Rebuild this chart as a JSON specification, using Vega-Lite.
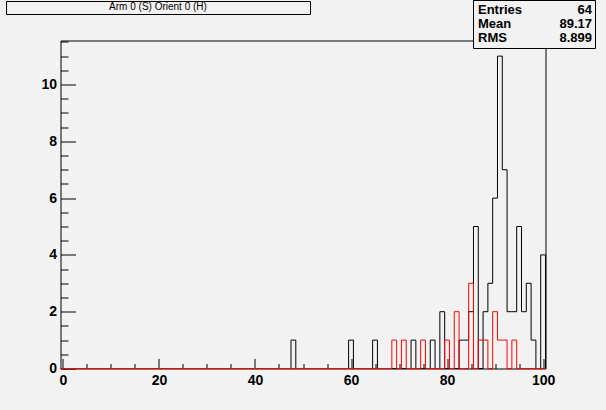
{
  "$schema": "https://vega.github.io/schema/vega-lite/v6.json",
  "width": 485,
  "height": 328,
  "autosize": {"type": "none"},
  "padding": {"left": 60.5, "top": 40.5, "right": 60.5, "bottom": 41.5},
  "background": "#f2f2f2",
  "config": {
    "view": {"stroke": "black", "strokeWidth": 1, "fill": "#f2f2f2"},
    "axis": {
      "domain": false, "tickColor": "black", "tickWidth": 1,
      "labelColor": "black", "labelFont": "Liberation Sans", "labelFontSize": 14,
      "labelFontWeight": "bold", "grid": false, "labelFlush": false, "labelOverlap": false
    }
  },
  "datasets": {
    "hist": [
      {"edge": -0.5, "all": 0, "sel": 0}, {"edge": 0.5, "all": 0, "sel": 0}, {"edge": 1.5, "all": 0, "sel": 0},
      {"edge": 2.5, "all": 0, "sel": 0}, {"edge": 3.5, "all": 0, "sel": 0}, {"edge": 4.5, "all": 0, "sel": 0},
      {"edge": 5.5, "all": 0, "sel": 0}, {"edge": 6.5, "all": 0, "sel": 0}, {"edge": 7.5, "all": 0, "sel": 0},
      {"edge": 8.5, "all": 0, "sel": 0}, {"edge": 9.5, "all": 0, "sel": 0}, {"edge": 10.5, "all": 0, "sel": 0},
      {"edge": 11.5, "all": 0, "sel": 0}, {"edge": 12.5, "all": 0, "sel": 0}, {"edge": 13.5, "all": 0, "sel": 0},
      {"edge": 14.5, "all": 0, "sel": 0}, {"edge": 15.5, "all": 0, "sel": 0}, {"edge": 16.5, "all": 0, "sel": 0},
      {"edge": 17.5, "all": 0, "sel": 0}, {"edge": 18.5, "all": 0, "sel": 0}, {"edge": 19.5, "all": 0, "sel": 0},
      {"edge": 20.5, "all": 0, "sel": 0}, {"edge": 21.5, "all": 0, "sel": 0}, {"edge": 22.5, "all": 0, "sel": 0},
      {"edge": 23.5, "all": 0, "sel": 0}, {"edge": 24.5, "all": 0, "sel": 0}, {"edge": 25.5, "all": 0, "sel": 0},
      {"edge": 26.5, "all": 0, "sel": 0}, {"edge": 27.5, "all": 0, "sel": 0}, {"edge": 28.5, "all": 0, "sel": 0},
      {"edge": 29.5, "all": 0, "sel": 0}, {"edge": 30.5, "all": 0, "sel": 0}, {"edge": 31.5, "all": 0, "sel": 0},
      {"edge": 32.5, "all": 0, "sel": 0}, {"edge": 33.5, "all": 0, "sel": 0}, {"edge": 34.5, "all": 0, "sel": 0},
      {"edge": 35.5, "all": 0, "sel": 0}, {"edge": 36.5, "all": 0, "sel": 0}, {"edge": 37.5, "all": 0, "sel": 0},
      {"edge": 38.5, "all": 0, "sel": 0}, {"edge": 39.5, "all": 0, "sel": 0}, {"edge": 40.5, "all": 0, "sel": 0},
      {"edge": 41.5, "all": 0, "sel": 0}, {"edge": 42.5, "all": 0, "sel": 0}, {"edge": 43.5, "all": 0, "sel": 0},
      {"edge": 44.5, "all": 0, "sel": 0}, {"edge": 45.5, "all": 0, "sel": 0}, {"edge": 46.5, "all": 0, "sel": 0},
      {"edge": 47.5, "all": 1, "sel": 0}, {"edge": 48.5, "all": 0, "sel": 0}, {"edge": 49.5, "all": 0, "sel": 0},
      {"edge": 50.5, "all": 0, "sel": 0}, {"edge": 51.5, "all": 0, "sel": 0}, {"edge": 52.5, "all": 0, "sel": 0},
      {"edge": 53.5, "all": 0, "sel": 0}, {"edge": 54.5, "all": 0, "sel": 0}, {"edge": 55.5, "all": 0, "sel": 0},
      {"edge": 56.5, "all": 0, "sel": 0}, {"edge": 57.5, "all": 0, "sel": 0}, {"edge": 58.5, "all": 0, "sel": 0},
      {"edge": 59.5, "all": 1, "sel": 0}, {"edge": 60.5, "all": 0, "sel": 0}, {"edge": 61.5, "all": 0, "sel": 0},
      {"edge": 62.5, "all": 0, "sel": 0}, {"edge": 63.5, "all": 0, "sel": 0}, {"edge": 64.5, "all": 1, "sel": 0},
      {"edge": 65.5, "all": 0, "sel": 0}, {"edge": 66.5, "all": 0, "sel": 0}, {"edge": 67.5, "all": 0, "sel": 0},
      {"edge": 68.5, "all": 0, "sel": 1}, {"edge": 69.5, "all": 0, "sel": 0}, {"edge": 70.5, "all": 0, "sel": 1},
      {"edge": 71.5, "all": 0, "sel": 0}, {"edge": 72.5, "all": 1, "sel": 0}, {"edge": 73.5, "all": 0, "sel": 0},
      {"edge": 74.5, "all": 0, "sel": 1}, {"edge": 75.5, "all": 0, "sel": 0}, {"edge": 76.5, "all": 1, "sel": 0},
      {"edge": 77.5, "all": 0, "sel": 0}, {"edge": 78.5, "all": 2, "sel": 0}, {"edge": 79.5, "all": 0, "sel": 1},
      {"edge": 80.5, "all": 0, "sel": 0}, {"edge": 81.5, "all": 0, "sel": 2}, {"edge": 82.5, "all": 1, "sel": 0},
      {"edge": 83.5, "all": 1, "sel": 0}, {"edge": 84.5, "all": 2, "sel": 3}, {"edge": 85.5, "all": 5, "sel": 0},
      {"edge": 86.5, "all": 0, "sel": 1}, {"edge": 87.5, "all": 2, "sel": 1}, {"edge": 88.5, "all": 3, "sel": 0},
      {"edge": 89.5, "all": 6, "sel": 2}, {"edge": 90.5, "all": 11, "sel": 1}, {"edge": 91.5, "all": 7, "sel": 1},
      {"edge": 92.5, "all": 2, "sel": 0}, {"edge": 93.5, "all": 2, "sel": 1}, {"edge": 94.5, "all": 5, "sel": 0},
      {"edge": 95.5, "all": 2, "sel": 0}, {"edge": 96.5, "all": 3, "sel": 0}, {"edge": 97.5, "all": 1, "sel": 0},
      {"edge": 98.5, "all": 0, "sel": 0}, {"edge": 99.5, "all": 4, "sel": 0}, {"edge": 100.5, "all": 0, "sel": 0}
    ],
    "stats": [
      {"stat": "Entries", "value": 64},
      {"stat": "Mean", "value": 89.17},
      {"stat": "RMS", "value": 8.899}
    ]
  },
  "resolve": {"axis": {"x": "independent", "y": "independent"}},
  "layer": [
    {
      "data": {"name": "hist"},
      "mark": {"type": "line", "interpolate": "step-after", "color": "black", "strokeWidth": 1},
      "encoding": {
        "x": {
          "field": "edge", "type": "quantitative",
          "scale": {"domain": [-0.5, 100.5], "nice": false, "zero": false},
          "axis": {"orient": "bottom", "title": null, "values": [0, 20, 40, 60, 80, 100], "tickSize": -10, "labelPadding": 15}
        },
        "y": {
          "field": "all", "type": "quantitative",
          "scale": {"domain": [0, 11.55], "nice": false},
          "axis": {"orient": "left", "title": null, "values": [0, 2, 4, 6, 8, 10], "tickSize": -15, "labelPadding": 19}
        }
      }
    },
    {
      "data": {"name": "hist"},
      "mark": {"type": "line", "interpolate": "step-after", "color": "#ff0000", "strokeWidth": 1},
      "encoding": {
        "x": {
          "field": "edge", "type": "quantitative",
          "scale": {"domain": [-0.5, 100.5], "nice": false, "zero": false},
          "axis": {"orient": "bottom", "title": null, "labels": false, "tickSize": -5,
            "values": [5, 10, 15, 25, 30, 35, 45, 50, 55, 65, 70, 75, 85, 90, 95]}
        },
        "y": {
          "field": "sel", "type": "quantitative",
          "scale": {"domain": [0, 11.55], "nice": false},
          "axis": {"orient": "left", "title": null, "labels": false, "tickSize": -7.5,
            "values": [0.5, 1, 1.5, 2.5, 3, 3.5, 4.5, 5, 5.5, 6.5, 7, 7.5, 8.5, 9, 9.5, 10.5, 11, 11.5]}
        }
      }
    },
    {
      "data": {"name": "stats"},
      "mark": {"type": "point", "opacity": 0},
      "encoding": {
        "stroke": {
          "field": "value", "type": "quantitative",
          "scale": {"domain": [0, 100], "range": ["#f2f2f2", "#f2f2f2"]},
          "legend": {
            "orient": "none", "legendX": -54.5, "legendY": -39.5, "zindex": 1,
            "direction": "horizontal", "gradientLength": 302, "gradientThickness": 1,
            "gradientStrokeWidth": 0, "values": [],
            "title": "Arm 0 (S) Orient 0 (H)", "titleAnchor": "middle", "titleFont": "Liberation Sans",
            "titleFontSize": 10, "titleFontWeight": "normal", "titleColor": "black", "titlePadding": 0,
            "titleLimit": 0, "padding": 1, "strokeColor": "black", "fillColor": "#f2f2f2"
          }
        },
        "fill": {
          "field": "value", "type": "nominal",
          "scale": {"domain": [64, 89.17, 8.899]},
          "legend": {
            "orient": "none", "legendX": 412.5, "legendY": -40.5, "title": null, "zindex": 1,
            "strokeColor": "black", "fillColor": "#f2f2f2", "padding": 3, "rowPadding": 0,
            "symbolSize": 0, "symbolStrokeWidth": 0, "symbolOpacity": 0,
            "labelOffset": 103, "labelAlign": "right", "labelFont": "Liberation Sans",
            "labelFontSize": 13, "labelFontWeight": "bold", "labelColor": "black"
          }
        },
        "shape": {
          "field": "stat", "type": "nominal",
          "scale": {"domain": ["Entries", "Mean", "RMS"]},
          "legend": {
            "orient": "none", "legendX": 412.5, "legendY": -40.5, "title": null, "zindex": 2,
            "padding": 3, "rowPadding": 0,
            "symbolSize": 0, "symbolStrokeWidth": 0, "symbolOpacity": 0,
            "labelOffset": -11, "labelFont": "Liberation Sans",
            "labelFontSize": 13, "labelFontWeight": "bold", "labelColor": "black"
          }
        }
      }
    }
  ]
}
